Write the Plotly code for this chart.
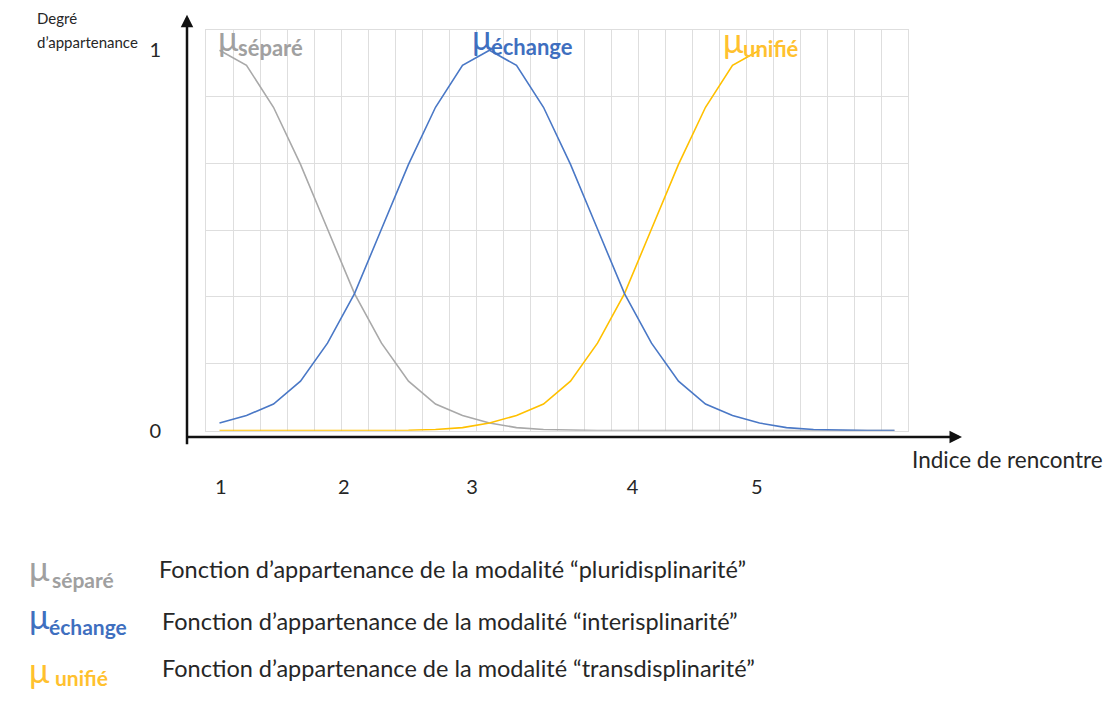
import plotly.graph_objects as go

W, H = 1107, 702

# ---- data ----
indice = list(range(1, 27))
separe = [1.00, 0.96, 0.85, 0.70, 0.53, 0.36, 0.23, 0.13, 0.07, 0.04, 0.02, 0.008, 0.003,
          0.001, 0.0, 0.0, 0.0, 0.0, 0.0, 0.0, 0.0, 0.0, 0.0, 0.0, 0.0, 0.0]
echange = [0.02, 0.04, 0.07, 0.13, 0.23, 0.36, 0.53, 0.70, 0.85, 0.96, 1.00, 0.96, 0.85,
           0.70, 0.53, 0.36, 0.23, 0.13, 0.07, 0.04, 0.02, 0.008, 0.003, 0.001, 0.0, 0.0]
unifie = [0.0, 0.0, 0.0, 0.0, 0.0, 0.0, 0.0, 0.001, 0.003, 0.008, 0.02, 0.04, 0.07, 0.13,
          0.23, 0.36, 0.53, 0.70, 0.85, 0.96, 1.00]
indice_labels = ["1", "2", "3", "4", "5"]
indice_ticks = [1.05, 5.6, 10.35, 16.3, 20.9]
degre_labels = ["0", "1"]
degre_ticks = [0, 1]

series_names = ["séparé", "échange", "unifié"]
descriptions = [
    "Fonction d’appartenance de la modalité “pluridisplinarité”",
    "Fonction d’appartenance de la modalité “interisplinarité”",
    "Fonction d’appartenance de la modalité “transdisplinarité”",
]

# ---- style ----
FONT = "Lato"
C_GRAY, C_BLUE, C_YEL = "#A9A9A9", "#4A78C6", "#FFC000"
T_GRAY, T_BLUE, T_YEL = "#A0A0A0", "#3F6FBF", "#FFC12E"
GRID = "#DEDEDE"
TXT = "#262626"


def P(px, py):
    return px / W, 1 - py / H


fig = go.Figure()
fig.add_trace(go.Scatter(x=indice, y=separe, mode="lines", line=dict(color=C_GRAY, width=1.6)))
fig.add_trace(go.Scatter(x=indice[:len(unifie)], y=unifie, mode="lines", line=dict(color=C_YEL, width=1.6)))
fig.add_trace(go.Scatter(x=indice, y=echange, mode="lines", line=dict(color=C_BLUE, width=1.6)))

x0p, x1p = 206, 908
ytop, ybot = 30, 437.5
yval1 = 51
ymax = (ybot - ytop) / (ybot - yval1)
dx0, _ = P(x0p, 0)
dx1, _ = P(x1p, 0)
_, dy1 = P(0, ytop)
_, dy0 = P(0, ybot)

fig.update_layout(
    width=W, height=H, margin=dict(l=0, r=0, t=0, b=0),
    paper_bgcolor="white", plot_bgcolor="white", showlegend=False,
    font=dict(family=FONT, color=TXT),
    xaxis=dict(domain=[dx0, dx1], range=[0.5, 26.5], tick0=0.5, dtick=1,
               showgrid=True, gridcolor=GRID, gridwidth=1, showticklabels=False,
               zeroline=False, showline=True, linecolor=GRID, mirror=True, ticks=""),
    yaxis=dict(domain=[dy0, dy1], range=[0, ymax], tick0=0, dtick=ymax / 6,
               showgrid=True, gridcolor=GRID, gridwidth=1, showticklabels=False,
               zeroline=False, showline=True, linecolor=GRID, mirror=True, ticks=""),
    xaxis2=dict(overlaying="x", anchor="y", side="bottom", range=[0.5, 26.5],
                tickvals=indice_ticks, ticktext=indice_labels, showgrid=False, zeroline=False,
                showline=False, ticks="", ticklabelstandoff=42,
                tickfont=dict(family=FONT, size=20, color=TXT)),
    yaxis2=dict(overlaying="y", anchor="x", side="left", range=[0, ymax],
                tickvals=degre_ticks, ticktext=degre_labels, showgrid=False, zeroline=False,
                showline=False, ticks="", ticklabelstandoff=44,
                tickfont=dict(family=FONT, size=20, color=TXT)),
)
# invisible trace to activate secondary axes
fig.add_trace(go.Scatter(x=[indice[0]], y=[0], xaxis="x2", yaxis="y2", mode="markers",
                         marker=dict(opacity=0), hoverinfo="skip"))

ann = []
# axis arrows
ax_x, ax_y = P(962, 444)
ann.append(dict(x=ax_x, y=ax_y, xref="paper", yref="paper", text="", showarrow=True,
                ax=-776, ay=0, arrowhead=2, arrowsize=1, arrowwidth=2.5, arrowcolor="#111"))
ay_x, ay_y = P(187, 15)
ann.append(dict(x=ay_x, y=ay_y, xref="paper", yref="paper", text="", showarrow=True,
                ax=0, ay=431, arrowhead=2, arrowsize=1, arrowwidth=2.5, arrowcolor="#111"))


def txt(px, py, s, size, color, anchor="left"):
    x, y = P(px, py)
    ann.append(dict(x=x, y=y, xref="paper", yref="paper", text=s, showarrow=False,
                    xanchor=anchor, yanchor="middle", font=dict(family=FONT, size=size, color=color)))


txt(35, 18, "Degré", 15, TXT)
txt(35, 43, "d’appartenance", 15, TXT)
txt(910, 467, "Indice de rencontre", 22.5, TXT)

# labels on chart
chart_pos = [(216, 236), (470, 489), (721, 741)]
chart_y = [(38, 48), (37, 47), (40, 49)]
tcols = [T_GRAY, T_BLUE, T_YEL]
for name, (mx, sx), (my, sy), c in zip(series_names, chart_pos, chart_y, tcols):
    txt(mx, my, "μ", 34, c)
    txt(sx, sy, "<b>" + name + "</b>", 22, c)

# bottom legend
leg_sub_x = [50, 47, 53]
leg_y = [(577, 589), (625, 636), (680, 688)]
text_x = [157, 160, 160]
text_y = [578, 631, 679]
for name, desc, sx, (my, sy), tx, ty, c in zip(series_names, descriptions, leg_sub_x, leg_y,
                                               text_x, text_y, tcols):
    txt(27, my, "μ", 34, c)
    txt(sx, sy, "<b>" + name + "</b>", 21, c)
    txt(tx, ty, desc, 23.5, TXT)

fig.update_layout(annotations=ann)
fig.write_html("out.html", config={"displayModeBar": False},
               post_script="document.body.style.margin='0';")
